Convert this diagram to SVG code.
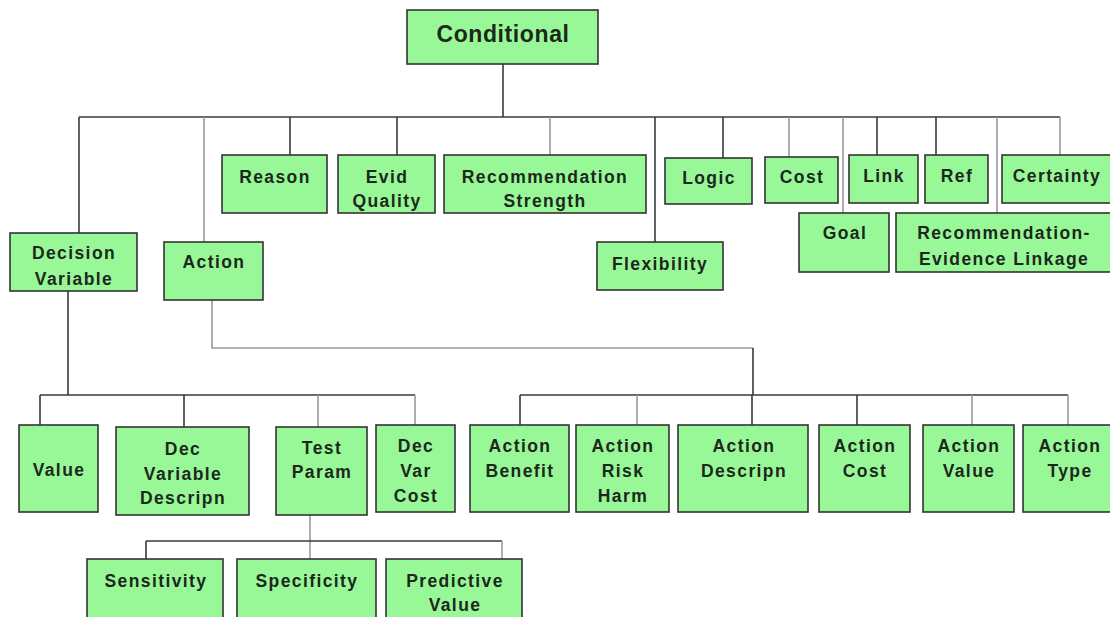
<svg xmlns="http://www.w3.org/2000/svg" width="1110" height="617" viewBox="0 0 1110 617">
  <style>
    .box { fill: #98f898; stroke: #333; stroke-width: 1.6; }
    .lbl { font-family: "Liberation Sans", Arial, sans-serif; font-weight: bold; font-size: 17.5px; letter-spacing: 1.4px; fill: #1c281c; text-anchor: middle; }
    .title { font-size: 23px; letter-spacing: 0.6px; }
    .ln { fill: none; stroke: #3a3a3a; stroke-width: 1.6; }
    .lt { fill: none; stroke: #9a9a9a; stroke-width: 1.6; }
  </style>
  <rect width="1110" height="617" fill="#ffffff"/>

  <g id="connectors">
    <!-- root to first level -->
    <path class="ln" d="M503 64V117M79 117H1060"/>
    <path class="ln" d="M79 117V233M290 117V155M397 117V155M655 117V242M723 117V158M877 117V155M936 117V155"/>
    <path class="lt" d="M204 117V242M550 117V155M789 117V157M843 117V213M997 117V213M1060 117V155"/>
    <!-- decision variable branch -->
    <path class="ln" d="M68 291V395M40 395H415M40 395V425M184 395V427"/>
    <path class="lt" d="M318 395V427M415 395V425"/>
    <!-- action branch -->
    <path class="lt" d="M212 300V348H753"/>
    <path class="ln" d="M753 348V395M520 395H1068M520 395V425M752 395V425M857 395V425"/>
    <path class="lt" d="M637 395V425M972 395V425M1068 395V425"/>
    <!-- test param branch -->
    <path class="lt" d="M310 515V559"/>
    <path class="ln" d="M146 541H502M146 541V559"/>
    <path class="lt" d="M502 541V559"/>
  </g>

  <g id="conditional"><rect class="box" x="407" y="10" width="191" height="54"/><text class="lbl title" x="503" y="42">Conditional</text></g>

  <g id="reason"><rect class="box" x="222" y="155" width="105" height="58"/><text class="lbl" x="275" y="183">Reason</text></g>
  <g id="evid-quality"><rect class="box" x="338" y="155" width="97" height="58"/><text class="lbl" x="387" y="183">Evid</text><text class="lbl" x="387" y="207">Quality</text></g>
  <g id="recommendation-strength"><rect class="box" x="444" y="155" width="202" height="58"/><text class="lbl" x="545" y="183">Recommendation</text><text class="lbl" x="545" y="207">Strength</text></g>
  <g id="logic"><rect class="box" x="665" y="158" width="87" height="46"/><text class="lbl" x="709" y="184">Logic</text></g>
  <g id="cost"><rect class="box" x="765" y="157" width="73" height="46"/><text class="lbl" x="802" y="183">Cost</text></g>
  <g id="link"><rect class="box" x="849" y="155" width="69" height="48"/><text class="lbl" x="884" y="182">Link</text></g>
  <g id="ref"><rect class="box" x="925" y="155" width="63" height="48"/><text class="lbl" x="957" y="182">Ref</text></g>
  <g id="certainty"><rect class="box" x="1002" y="155" width="115" height="48"/><text class="lbl" x="1057" y="182">Certainty</text></g>
  <g id="goal"><rect class="box" x="799" y="213" width="90" height="59"/><text class="lbl" x="845" y="239">Goal</text></g>
  <g id="recommendation-evidence-linkage"><rect class="box" x="896" y="213" width="220" height="59"/><text class="lbl" x="1004" y="239">Recommendation-</text><text class="lbl" x="1004" y="265">Evidence Linkage</text></g>
  <g id="flexibility"><rect class="box" x="597" y="242" width="126" height="48"/><text class="lbl" x="660" y="270">Flexibility</text></g>
  <g id="decision-variable"><rect class="box" x="10" y="233" width="127" height="58"/><text class="lbl" x="74" y="259">Decision</text><text class="lbl" x="74" y="285">Variable</text></g>
  <g id="action"><rect class="box" x="164" y="242" width="99" height="58"/><text class="lbl" x="214" y="268">Action</text></g>

  <g id="value"><rect class="box" x="19" y="425" width="79" height="87"/><text class="lbl" x="59" y="476">Value</text></g>
  <g id="dec-variable-descripn"><rect class="box" x="116" y="427" width="133" height="88"/><text class="lbl" x="183" y="455">Dec</text><text class="lbl" x="183" y="480">Variable</text><text class="lbl" x="183" y="504">Descripn</text></g>
  <g id="test-param"><rect class="box" x="276" y="427" width="91" height="88"/><text class="lbl" x="322" y="454">Test</text><text class="lbl" x="322" y="478">Param</text></g>
  <g id="dec-var-cost"><rect class="box" x="376" y="425" width="79" height="87"/><text class="lbl" x="416" y="452">Dec</text><text class="lbl" x="416" y="477">Var</text><text class="lbl" x="416" y="502">Cost</text></g>

  <g id="action-benefit"><rect class="box" x="470" y="425" width="99" height="87"/><text class="lbl" x="520" y="452">Action</text><text class="lbl" x="520" y="477">Benefit</text></g>
  <g id="action-risk-harm"><rect class="box" x="576" y="425" width="93" height="87"/><text class="lbl" x="623" y="452">Action</text><text class="lbl" x="623" y="477">Risk</text><text class="lbl" x="623" y="502">Harm</text></g>
  <g id="action-descripn"><rect class="box" x="678" y="425" width="130" height="87"/><text class="lbl" x="744" y="452">Action</text><text class="lbl" x="744" y="477">Descripn</text></g>
  <g id="action-cost"><rect class="box" x="819" y="425" width="91" height="87"/><text class="lbl" x="865" y="452">Action</text><text class="lbl" x="865" y="477">Cost</text></g>
  <g id="action-value"><rect class="box" x="923" y="425" width="91" height="87"/><text class="lbl" x="969" y="452">Action</text><text class="lbl" x="969" y="477">Value</text></g>
  <g id="action-type"><rect class="box" x="1023" y="425" width="95" height="87"/><text class="lbl" x="1070" y="452">Action</text><text class="lbl" x="1070" y="477">Type</text></g>

  <g id="sensitivity"><rect class="box" x="87" y="559" width="136" height="70"/><text class="lbl" x="156" y="587">Sensitivity</text></g>
  <g id="specificity"><rect class="box" x="237" y="559" width="139" height="70"/><text class="lbl" x="307" y="587">Specificity</text></g>
  <g id="predictive-value"><rect class="box" x="386" y="559" width="136" height="70"/><text class="lbl" x="455" y="587">Predictive</text><text class="lbl" x="455" y="611">Value</text></g>
</svg>
